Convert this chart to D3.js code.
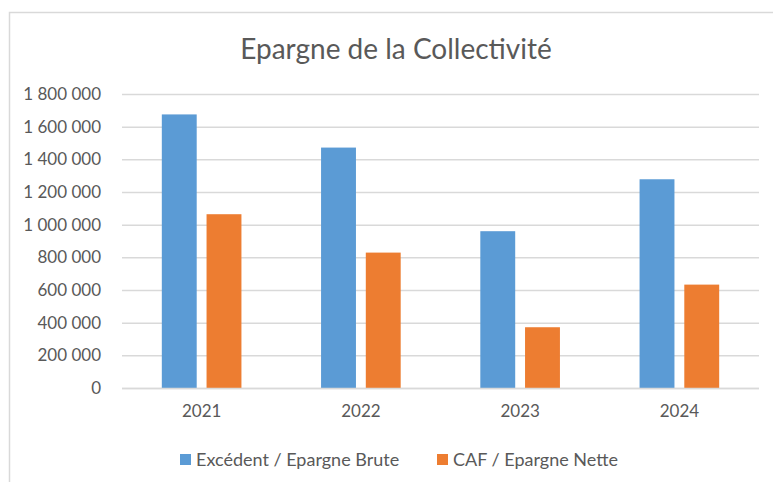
<!DOCTYPE html>
<html>
<head>
<meta charset="utf-8">
<script src="https://cdn.jsdelivr.net/npm/d3@7"></script>
<style>
  body { margin: 0; background: #fff; }
  text { font-family: Lato, "Open Sans", sans-serif; fill: #595959; }
</style>
</head>
<body>
<div id="chart"></div>
<script>
// data
const years = ["2021", "2022", "2023", "2024"]
const seriesNames = ["Excédent / Epargne Brute", "CAF / Epargne Nette"]
const epargneBrute = [1675000, 1472000, 960000, 1278000]
const epargneNette = [1064000, 829000, 372000, 633000]
const yTicks = [0, 200000, 400000, 600000, 800000, 1000000, 1200000, 1400000, 1600000, 1800000]
const colors = ["#5B9BD5", "#ED7D31"]

// const
const width = 773
const height = 482
const margin = {
    top: 94,
    bottom: 94,
    left: 122,
    right: 14
}

const svg = d3.select("#chart")
    .append("svg")
    .attr("width", width)
    .attr("height", height)

// chart frame
svg.append("rect")
    .attr("x", 9.5)
    .attr("y", 12.5)
    .attr("width", 800)
    .attr("height", 520)
    .attr("fill", "none")
    .attr("stroke", "#D9D9D9")
    .attr("stroke-width", 1.5)

svg.append("text")
    .attr("x", 396)
    .attr("y", 59)
    .attr("text-anchor", "middle")
    .style("font-size", "28px")
    .text("Epargne de la Collectivité")

const data = years.map((y, i) => ({year: y, values: [epargneBrute[i], epargneNette[i]]}))

const x0 = d3.scaleBand()
    .domain(years)
    .range([margin.left, width - margin.right])
    .paddingInner(0.5)
    .paddingOuter(0.25)

const x1 = d3.scaleBand()
    .domain([0, 1])
    .range([0, x0.bandwidth()])
    .paddingInner(0.22)

const y = d3.scaleLinear()
    .domain([0, 1800000])
    .range([height - margin.bottom, margin.top])

const fmt = d3.formatLocale({decimal: ",", thousands: " ", grouping: [3], currency: ["", " €"]}).format(",d")

// gridlines + y labels
const yAxis = d3.axisLeft(y)
    .tickValues(yTicks)
    .tickFormat(fmt)
    .tickSize(-(width - margin.left - margin.right))
    .tickPadding(21)

const yAxisGroup = svg.append("g")
    .attr("transform", `translate(${margin.left},0)`)
    .call(yAxis)
yAxisGroup.select(".domain").remove()
yAxisGroup.selectAll("line").attr("stroke", "#D9D9D9").attr("stroke-width", 1.5)
yAxisGroup.selectAll("text").style("font-size", "17px").style("font-family", null).attr("fill", "#595959")

// bars
const groups = svg.append("g").selectAll("g")
    .data(data)
    .join("g")
    .attr("transform", d => `translate(${x0(d.year)},0)`)

groups.selectAll("rect")
    .data(d => d.values.map((v, k) => ({k: k, v: v})))
    .join("rect")
    .attr("x", d => x1(d.k))
    .attr("width", x1.bandwidth())
    .attr("y", d => y(d.v))
    .attr("height", d => y(0) - y(d.v))
    .attr("fill", d => colors[d.k])

// x axis
const xAxis = d3.axisBottom(x0).tickSize(0).tickPadding(17)
const xAxisGroup = svg.append("g")
    .attr("transform", `translate(0,${height - margin.bottom})`)
    .call(xAxis)
xAxisGroup.select(".domain")
    .attr("stroke", "#D9D9D9")
    .attr("stroke-width", 1.5)
    .attr("d", `M${margin.left},0.5H${width - margin.right}`)
xAxisGroup.selectAll("text").style("font-size", "17px").style("font-family", null).attr("fill", "#595959")

// legend
const legendX = [180, 437]
const legend = svg.append("g").selectAll("g")
    .data(seriesNames)
    .join("g")
    .attr("transform", (d, i) => `translate(${legendX[i]},460)`)

legend.append("rect")
    .attr("x", 0)
    .attr("y", -6)
    .attr("width", 11)
    .attr("height", 11)
    .attr("fill", (d, i) => colors[i])

legend.append("text")
    .attr("x", 16)
    .attr("y", 6)
    .style("font-size", "18px")
    .text(d => d)
</script>
</body>
</html>
